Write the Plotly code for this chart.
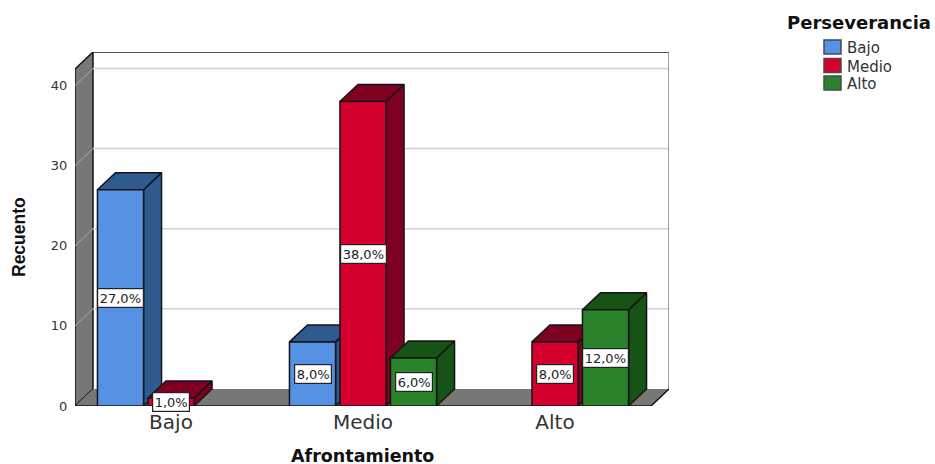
import plotly.graph_objects as go

# Counts per coping level (Afrontamiento), one list per perseverance level
categories = ["Bajo", "Medio", "Alto"]
series_names = ["Bajo", "Medio", "Alto"]
bajo_values = [27, 8, None]
medio_values = [1, 38, 8]
alto_values = [None, 6, 12]
y_ticks = [0, 10, 20, 30, 40]

front_colors = ["#5592E3", "#D6002F", "#2A832B"]
shade_colors = ["#2F5A8F", "#7F0020", "#175217"]
WALL = "#777777"
GRID = "#D2D2D2"
EDGE = "#141414"

# Plot box and oblique projection, in axis units
X_MIN, X_MAX_FRONT = -0.5, 2.5
Y_MAX_FRONT = 42.06
DEPTH_X, DEPTH_Y = 18 / 192, 17 / 8
X_MAX = X_MAX_FRONT + DEPTH_X
Y_MAX = Y_MAX_FRONT + DEPTH_Y
SLOT = 0.263
BAR_W = 0.24

# Figure layout in pixels
FIG_W, FIG_H = 935, 464
M_L, M_R, M_T, M_B = 75, 266, 52, 58
PLOT_W = FIG_W - M_L - M_R
PLOT_H = FIG_H - M_T - M_B


def px(x):
    return (x - M_L) / PLOT_W


def py(y):
    return (FIG_H - M_B - y) / PLOT_H


fig = go.Figure()


def poly(xs, ys, fill, line=None, width=1.5):
    fig.add_trace(go.Scatter(
        x=xs, y=ys, mode="lines", fill="toself" if fill else None,
        fillcolor=fill, line=dict(color=line or "rgba(0,0,0,0)", width=width),
        showlegend=False, hoverinfo="skip", cliponaxis=False, yaxis="y",
    ))


# Walls and floor
poly([X_MIN, X_MIN + DEPTH_X, X_MIN + DEPTH_X, X_MIN, X_MIN],
     [0, DEPTH_Y, Y_MAX, Y_MAX_FRONT, 0], WALL, EDGE, 1.5)
poly([X_MIN, X_MIN + DEPTH_X, X_MAX, X_MAX_FRONT, X_MIN],
     [0, DEPTH_Y, DEPTH_Y, 0, 0], WALL)

# Grid lines run along the back wall and slant across the side wall
for t in y_ticks[1:]:
    poly([X_MIN + DEPTH_X, X_MAX], [t + DEPTH_Y, t + DEPTH_Y], None, GRID, 1.5)
    poly([X_MIN, X_MIN + DEPTH_X], [t, t + DEPTH_Y], None, "#A8A8A8", 1)

# Back-wall outline and floor edges
poly([X_MIN + DEPTH_X, X_MAX], [Y_MAX, Y_MAX], None, EDGE, 1.5)
poly([X_MAX, X_MAX], [Y_MAX, DEPTH_Y], None, "#808080", 1.5)
poly([X_MAX, X_MAX_FRONT, X_MIN], [DEPTH_Y, 0, 0], None, EDGE, 1.5)

# Side and top faces, painted left to right so nearer boxes cover farther ones
all_values = [bajo_values, medio_values, alto_values]
for c in range(len(categories)):
    for s, vals in enumerate(all_values):
        v = vals[c]
        if v is None:
            continue
        left = c + (s - 1) * SLOT - BAR_W / 2
        right = left + BAR_W
        poly([right, right + DEPTH_X, right + DEPTH_X, right, right],
             [0, DEPTH_Y, v + DEPTH_Y, v, 0], shade_colors[s], EDGE, 1.5)
        poly([left, left + DEPTH_X, right + DEPTH_X, right, left],
             [v, v + DEPTH_Y, v + DEPTH_Y, v, v], shade_colors[s], EDGE, 1.5)

# Front faces sit on an overlaid axis so they stay above every side face
for s, vals in enumerate(all_values):
    fig.add_trace(go.Bar(
        x=list(range(len(categories))), y=vals, name=series_names[s],
        marker=dict(color=front_colors[s], line=dict(color=EDGE, width=1.5)),
        yaxis="y2", showlegend=False,
    ))

# Percentage labels centred on each bar
annotations = []
for c in range(len(categories)):
    for s, vals in enumerate(all_values):
        v = vals[c]
        if v is None:
            continue
        annotations.append(dict(
            x=c + (s - 1) * SLOT, y=v / 2, xref="x", yref="y",
            text=f"{v:.1f}%".replace(".", ","), showarrow=False,
            font=dict(family="DejaVu Sans", size=13, color="#222222"),
            bgcolor="white", bordercolor="#222222", borderwidth=1.2, borderpad=1.5,
        ))


def title_note(x, y, text, family, size, **extra):
    return dict(x=px(x), y=py(y), xref="paper", yref="paper", text=text,
                showarrow=False, xanchor="center", yanchor="middle",
                font=dict(family=family, size=size, color="#111111"), **extra)


annotations += [
    title_note(362, 456, "<b>Afrontamiento</b>", "DejaVu Sans", 17.5),
    title_note(859, 22, "<b>Perseverancia</b>", "DejaVu Sans", 18),
    title_note(19, 237, "<b>Recuento</b>", "Liberation Sans", 17.5, textangle=-90),
]

# Legend keys and names, stacked under the legend heading
shapes = []
key_tops = [40, 58.5, 76]
for name, top, color in zip(series_names, key_tops, front_colors):
    shapes.append(dict(
        type="rect", xref="paper", yref="paper", x0=px(824), x1=px(841),
        y0=py(top), y1=py(top + 14), fillcolor=color,
        line=dict(color="#4A4A4A", width=1.5),
    ))
    annotations.append(dict(
        x=px(845), y=py(top + 8), xref="paper", yref="paper", text=name,
        showarrow=False, xanchor="left", yanchor="middle",
        font=dict(family="DejaVu Sans", size=15, color="#333333"),
    ))

fig.update_layout(
    width=FIG_W, height=FIG_H, autosize=False,
    margin=dict(l=M_L, r=M_R, t=M_T, b=M_B, autoexpand=False),
    paper_bgcolor="white", plot_bgcolor="white",
    showlegend=False,
    barmode="group",
    bargap=1 - 3 * SLOT,
    bargroupgap=1 - BAR_W / SLOT,
    xaxis=dict(
        range=[X_MIN, X_MAX], tickvals=list(range(len(categories))), ticktext=categories,
        showgrid=False, zeroline=False, showline=False,
        ticks="", ticklabelstandoff=2,
        tickfont=dict(family="DejaVu Sans", size=20, color="#333333"),
    ),
    yaxis=dict(
        range=[0, Y_MAX], tickvals=y_ticks, showgrid=False, zeroline=False,
        showline=False, ticks="outside", ticklen=4, tickcolor="rgba(0,0,0,0)",
        tickfont=dict(family="DejaVu Sans", size=13, color="#333333"),
    ),
    yaxis2=dict(range=[0, Y_MAX], overlaying="y", visible=False),
    annotations=annotations,
    shapes=shapes,
)

fig.write_html("out.html")
